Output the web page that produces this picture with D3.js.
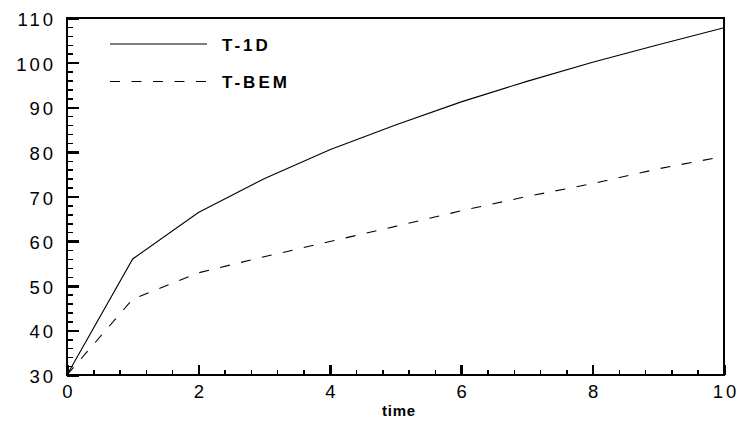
<!DOCTYPE html>
<html>
<head>
<meta charset="utf-8">
<script src="https://cdn.jsdelivr.net/npm/d3@7"></script>
<style>
  body { margin: 0; background: #fff; }
  svg { display: block; }
  .tick line, .frame { shape-rendering: crispEdges; }
</style>
</head>
<body>
<svg id="chart" width="741" height="424"></svg>
<script>
// data
var time = [0, 1, 2, 3, 4, 5, 6, 7, 8, 9, 10];
var t1d  = [30, 56, 66.4, 74.0, 80.5, 86.0, 91.2, 95.8, 100.1, 104.0, 107.8];
var tbem = [30, 47, 52.9, 56.5, 59.9, 63.3, 66.8, 70.0, 72.9, 76.2, 79.0];
var xTicks = [0, 2, 4, 6, 8, 10];
var yTicks = [30, 40, 50, 60, 70, 80, 90, 100, 110];
var seriesNames = ["T-1D", "T-BEM"];

var svg = d3.select("#chart");
var margin = { top: 18, right: 17, bottom: 49, left: 67 };
var width = 741 - margin.left - margin.right,
    height = 424 - margin.top - margin.bottom;

var g = svg.append("g")
    .attr("transform", "translate(" + margin.left + "," + margin.top + ")");

var x = d3.scaleLinear().domain([0, 10]).range([0, width]);
var y = d3.scaleLinear().domain([30, 110]).range([height, 0]);

var font = "'Liberation Sans', Arial, sans-serif";

// minor ticks (inward)
g.append("g")
    .attr("transform", "translate(0," + height + ")")
    .call(d3.axisBottom(x).tickValues(d3.range(0, 10.01, 0.4)).tickSize(-5).tickFormat(""))
    .call(function(a) { a.select(".domain").remove(); a.selectAll("line").attr("stroke-width", 1.5).attr("stroke", "#000"); });
g.append("g")
    .call(d3.axisLeft(y).tickValues(d3.range(30, 110.01, 2)).tickSize(-6).tickFormat(""))
    .call(function(a) { a.select(".domain").remove(); a.selectAll("line").attr("stroke-width", 1.5).attr("stroke", "#000"); });

// major ticks + labels
var xAxis = g.append("g")
    .attr("transform", "translate(0," + height + ")")
    .call(d3.axisBottom(x).tickValues(xTicks).tickSize(-10).tickPadding(23).tickFormat(d3.format("d")));
xAxis.select(".domain").remove();
xAxis.selectAll("line").attr("stroke-width", 2.5).attr("stroke", "#000");
xAxis.selectAll("text")
    .attr("dy", 0)
    .attr("dx", 1.5)
    .style("font-family", font)
    .style("font-size", "18.5px")
    .style("letter-spacing", "3px")
    .attr("fill", "#000");

var yAxis = g.append("g")
    .call(d3.axisLeft(y).tickValues(yTicks).tickSize(-12).tickPadding(14).tickFormat(d3.format("d")));
yAxis.select(".domain").remove();
yAxis.selectAll("line").attr("stroke-width", 2.5).attr("stroke", "#000");
yAxis.selectAll("text")
    .attr("dy", 7.5)
    .attr("dx", 3)
    .style("font-family", font)
    .style("font-size", "18.5px")
    .style("letter-spacing", "3px")
    .attr("fill", "#000");

// frame
g.append("rect")
    .attr("class", "frame")
    .attr("width", width)
    .attr("height", height)
    .attr("fill", "none")
    .attr("stroke", "#000")
    .attr("stroke-width", 2.5);

// lines
var line = d3.line()
    .x(function(d) { return x(d[0]); })
    .y(function(d) { return y(d[1]); });

g.append("path")
    .datum(d3.zip(time, t1d))
    .attr("d", line)
    .attr("fill", "none")
    .attr("stroke", "#000")
    .attr("stroke-width", 1.1);

g.append("path")
    .datum(d3.zip(time, tbem))
    .attr("d", line)
    .attr("fill", "none")
    .attr("stroke", "#000")
    .attr("stroke-width", 1.1)
    .attr("stroke-dasharray", "10,11.5");

// legend
var legend = svg.append("g");
var dashes = [null, "10,11.5"];
seriesNames.forEach(function(name, i) {
  var ly = 44 + i * 37.5;
  legend.append("line")
      .attr("x1", 110).attr("x2", 207)
      .attr("y1", ly).attr("y2", ly)
      .attr("stroke", "#000")
      .attr("stroke-width", 1.1)
      .attr("stroke-dasharray", dashes[i]);
  legend.append("text")
      .attr("x", 222)
      .attr("y", ly + 6.5)
      .style("font-family", font)
      .style("font-size", "17px")
      .style("font-weight", "bold")
      .style("letter-spacing", "3px")
      .text(name);
});

// axis title
svg.append("text")
    .attr("x", 399)
    .attr("y", 416)
    .attr("text-anchor", "middle")
    .style("font-family", font)
    .style("font-size", "15px")
    .style("font-weight", "bold")
    .style("letter-spacing", "0.8px")
    .text("time");
</script>
</body>
</html>
